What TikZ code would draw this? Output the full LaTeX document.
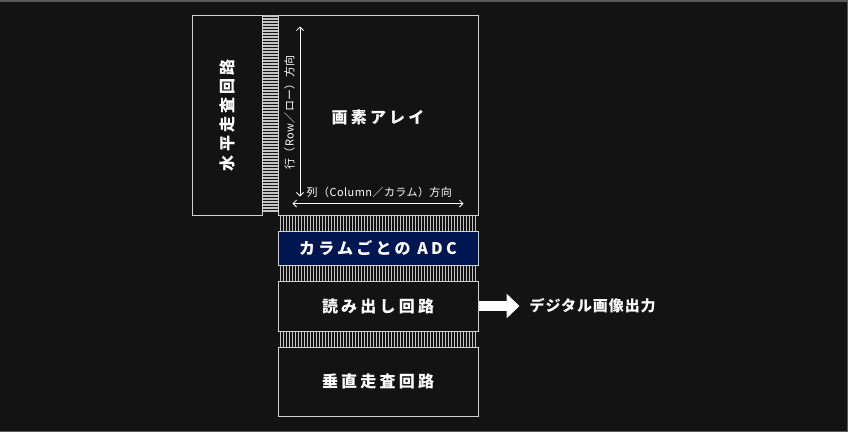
\documentclass[tikz,border=0pt]{standalone}
\usepackage{fontspec}
\setmainfont{Noto Sans CJK JP}
\newfontfamily\boxfont{Noto Sans CJK JP}[LetterSpace=20]
\newfontfamily\notefont{Noto Sans CJK JP}[LetterSpace=4]
\newfontfamily\outfont{Noto Sans CJK JP}[LetterSpace=6]
\usetikzlibrary{calc,arrows.meta}

\definecolor{bgcol}{HTML}{131313}
\definecolor{edgecol}{HTML}{5A5A5A}
\definecolor{framecol}{HTML}{D2D2D2}
\definecolor{adcblue}{HTML}{001650}
\definecolor{stripecol}{HTML}{C4C4C4}

\tikzset{
  block/.style={draw=framecol, line width=1pt, inner sep=0pt},
  blocktext/.style={text=white, inner sep=0pt,
    font=\boxfont\bfseries\fontsize{16}{16}\selectfont},
  note/.style={text=white, inner sep=0pt,
    font=\notefont\fontsize{11}{11}\selectfont},
  outtext/.style={text=white, inner sep=0pt,
    font=\outfont\bfseries\fontsize{15}{15}\selectfont},
  stripe/.style={stripecol, line width=1.3pt},
  dirarrow/.style={white, line width=0.8pt,
    {Straight Barb[length=3.5pt,width=7pt]}-{Straight Barb[length=3.5pt,width=7pt]}},
  outarrow/.style={white, line width=10pt,
    -{Triangle[length=13pt,width=24pt]}, shorten >=10pt}
}

\begin{document}
\begin{tikzpicture}[x=1pt,y=-1pt]
    \fill [bgcol] (0,0) rectangle (848,432);
    \useasboundingbox (0,0) rectangle (848,432);
    \draw [edgecol, line width=1.5pt] (0,0.75) -- (847.25,0.75) -- (847.25,431.25) -- (0,431.25);
    % blocks
    \node [block, minimum width=70pt, minimum height=200pt] (hscan) at (227,115) {};
    \node [blocktext, rotate=90] (hscanlbl) at (hscan) {水平走査回路};
    \node [block, minimum width=200pt, minimum height=200pt] (pix) at (378,115) {};
    \node [blocktext] (pixlbl) at (378,117) {画素アレイ};
    \node [block, fill=adcblue, minimum width=200pt, minimum height=34pt] (adc) at (378,248) {};
    \node [blocktext] (adclbl) at (adc) {カラムごとの ADC};
    \node [block, minimum width=200pt, minimum height=50pt] (read) at (378,306) {};
    \node [blocktext] (readlbl) at (read) {読み出し回路};
    \node [block, minimum width=200pt, minimum height=69pt] (vscan) at (378,381.5) {};
    \node [blocktext] (vscanlbl) at (vscan) {垂直走査回路};
    % stripes
    \foreach \y in {1.5,4.5,...,198.5}
        \draw [stripe] ($(hscan.north east)+(0,\y)$) -- ($(pix.north west)+(0,\y)$);
    \foreach \x in {3,6,...,198} {
        \draw [stripe] ($(pix.south west)+(\x,0)$) -- ($(adc.north west)+(\x,0)$);
        \draw [stripe] ($(adc.south west)+(\x,0)$) -- ($(read.north west)+(\x,0)$);
        \draw [stripe] ($(read.south west)+(\x,0)$) -- ($(vscan.north west)+(\x,0)$);
    }
    % directions
    \coordinate (rowtop) at ($(pix.north west)+(22.5,12)$);
    \coordinate (rowbot) at ($(pix.north west)+(22.5,182)$);
    \draw [dirarrow] (rowtop) -- (rowbot);
    \node [note, rotate=90] (rowlbl) at ($(pix.north west)+(12,98)$) {行（Row／ロー）方向};
    \coordinate (colleft) at ($(pix.north west)+(15,189)$);
    \coordinate (colright) at ($(pix.north west)+(186,189)$);
    \draw [dirarrow] (colleft) -- (colright);
    \node [note, anchor=west] (collbl) at ($(pix.north west)+(29,178)$) {列（Column／カラム）方向};
    % output
    \node [outtext, anchor=west] (out) at ($(read.east)+(51,0)$) {デジタル画像出力};
    \draw [outarrow] (read.east) -- (out.west);
\end{tikzpicture}
\end{document}
